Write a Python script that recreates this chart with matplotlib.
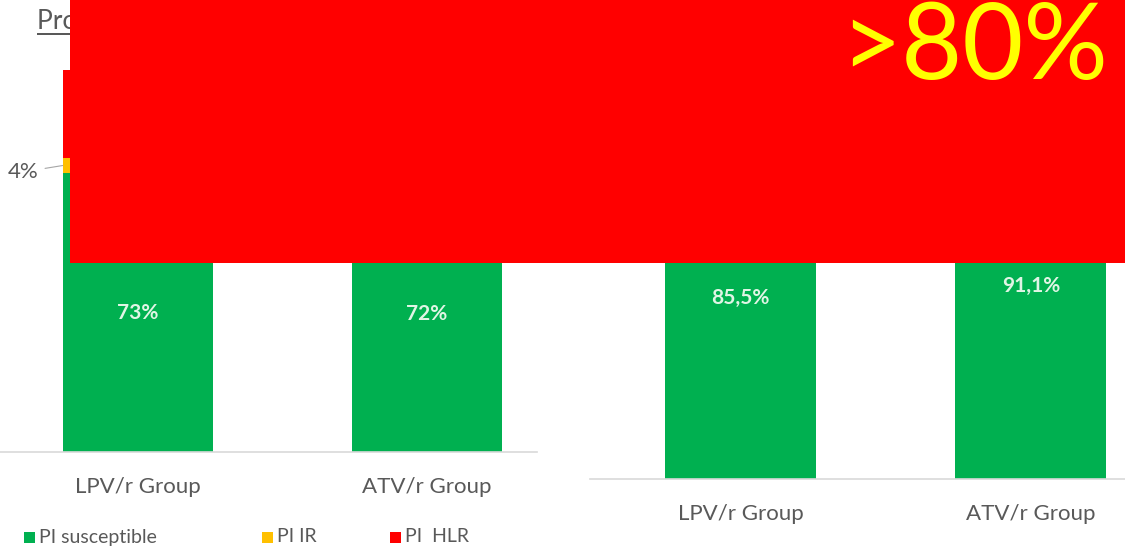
import matplotlib
matplotlib.use("Agg")
import matplotlib.pyplot as plt
from matplotlib.patches import Rectangle

plt.rcParams["font.family"] = ["Lato", "DejaVu Sans"]

W, H = 1125, 548

GREEN = "#00b050"
YELLOW = "#ffc000"
RED = "#ff0000"
INK = "#595959"
BASE = "#d9d9d9"
INBAR = "#e0f5e5"

groups = ["LPV/r Group", "ATV/r Group"]
series = ["PI susceptible", "PI IR", "PI  HLR"]
colors = [GREEN, YELLOW, RED]

# left panel: PI resistance profile (percent)
pi_sus = [73, 72]
pi_ir = [4, 3]
pi_hlr = [23, 25]
pi_sus_labels = ["73%", "72%"]

# right panel
right_sus = [85.5, 91.1]
right_rest = [14.5, 8.9]
right_labels = ["85,5%", "91,1%"]


def px_axes(x0, x1, ytop, ybot):
    return fig.add_axes([x0 / W, 1 - ybot / H, (x1 - x0) / W, (ybot - ytop) / H])


def style(ax):
    for s in ("top", "right", "left"):
        ax.spines[s].set_visible(False)
    ax.spines["bottom"].set_color(BASE)
    ax.spines["bottom"].set_linewidth(1.2)
    ax.set_yticks([])
    ax.tick_params(axis="x", length=0, pad=18, labelsize=16, labelcolor=INK)
    ax.set_ylim(0, 100)


fig = plt.figure(figsize=(W / 100, H / 100), dpi=100)

# ---- left panel ----
axl = px_axes(0, 537, 70, 452)
x = [0, 1]
bw = 0.52
bottoms = [0, 0]
stack = [pi_sus, pi_ir, pi_hlr]
for vals, c in zip(stack, colors):
    axl.bar(x, vals, bw, bottom=bottoms, color=c, zorder=2)
    bottoms = [b + v for b, v in zip(bottoms, vals)]
axl.set_xlim(-0.477, 1.38)
axl.set_xticks(x, groups)
style(axl)
for xi, v, lab in zip(x, pi_sus, pi_sus_labels):
    axl.text(xi, v / 2, lab, ha="center", va="center", fontsize=15,
             color=INBAR, fontweight="bold", zorder=3)
# callout for the IR segment of the first bar
axl.annotate(f"{pi_ir[0]}%", xy=(-bw / 2, pi_sus[0] + pi_ir[0] / 2),
             xytext=(-0.345, pi_sus[0] + 0.3), textcoords="data",
             ha="right", va="center", fontsize=16, color=INK,
             arrowprops=dict(arrowstyle="-", color="#a6a6a6", lw=0.8,
                             shrinkA=3, shrinkB=0),
             annotation_clip=False)
fig.text(37 / W, 1 - 29 / H, "Protease inhibitor resistance", fontsize=19,
         color=INK, ha="left", va="baseline")
fig.add_artist(Rectangle((37 / W, 1 - 35 / H), 280 / W, 2 / H,
                         transform=fig.transFigure, color=INK, lw=0))

# legend row
for (lx, name), c in zip([(24, series[0]), (262, series[1]), (390, series[2])], colors):
    fig.add_artist(Rectangle((lx / W, 1 - 543 / H), 11 / W, 11 / H,
                             transform=fig.transFigure, color=c, lw=0))
    fig.text((lx + 15) / W, 1 - 537 / H, name, fontsize=14, color=INK,
             ha="left", va="center")

# ---- right panel ----
axr = px_axes(590, 1125, 55, 479)
axr.bar(x, right_sus, bw, color=GREEN, zorder=2)
axr.bar(x, right_rest, bw, bottom=right_sus, color=RED, zorder=2)
axr.set_xlim(-0.52, 1.325)
axr.set_xticks(x, groups)
style(axr)
for xi, v, lab in zip(x, right_sus, right_labels):
    axr.text(xi, v / 2, lab, ha="center", va="center", fontsize=15,
             color=INBAR, fontweight="bold", zorder=3)

# ---- highlight banner ----
fig.add_artist(Rectangle((70 / W, 1 - 263 / H), (W - 70) / W, 263 / H,
                         transform=fig.transFigure, color=RED, lw=0, zorder=10))
fig.text(1108 / W, 1 - 79 / H, ">80%", fontsize=76, color="#ffff00",
         ha="right", va="baseline", zorder=11)

fig.savefig("out.png", dpi=100)
